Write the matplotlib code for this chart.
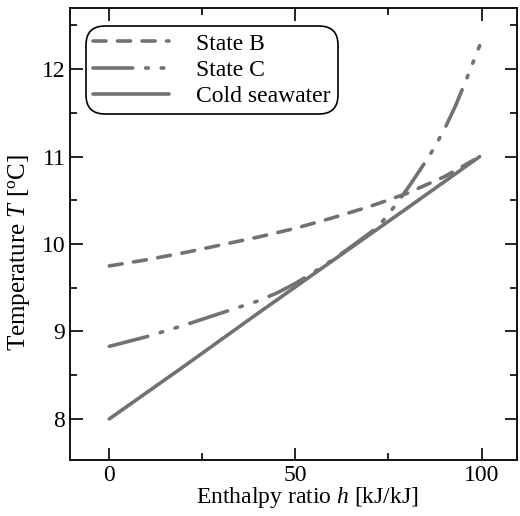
import matplotlib
matplotlib.use("Agg")
import matplotlib.pyplot as plt
from matplotlib.ticker import MultipleLocator

# enthalpy ratio h [kJ/kJ] and temperature T [C]
h_b = [0, 10, 20, 30, 40, 50, 60, 70, 80, 90, 99.5]
t_b = [9.75, 9.82, 9.90, 9.99, 10.08, 10.18, 10.30, 10.43, 10.58, 10.77, 11.0]

h_c = [0, 10, 20, 30, 40, 45, 50, 55, 60, 65, 72, 75, 78, 81, 84, 87, 90, 93, 96, 99.5]
t_c = [8.83, 8.94, 9.07, 9.21, 9.35, 9.44, 9.55, 9.68, 9.82, 9.97, 10.19, 10.34,
       10.51, 10.69, 10.88, 11.08, 11.31, 11.58, 11.89, 12.27]

h_sw = [0, 20, 40, 60, 80, 99.5]
t_sw = [8.00, 8.60, 9.21, 9.81, 10.41, 11.0]

labels = ["State B", "State C", "Cold seawater"]

plt.rcParams["font.family"] = ["Liberation Serif", "DejaVu Serif"]
plt.rcParams["mathtext.fontset"] = "custom"
plt.rcParams["mathtext.rm"] = "Liberation Serif"
plt.rcParams["mathtext.it"] = "Liberation Serif:italic"

GRAY = "#727272"
LW = 2.6

fig = plt.figure(figsize=(5.2, 5.16), dpi=100)
ax = fig.add_axes([0.135, 0.1085, 0.859, 0.876])

ax.plot(h_b, t_b, color=GRAY, lw=LW, dashes=(3.6, 3.2), dash_capstyle="round",
        label=labels[0])
ax.plot(h_c, t_c, color=GRAY, lw=LW, dashes=(11, 3.6, 0.7, 3.6, 0.7, 3.6),
        dash_capstyle="round", label=labels[1])
ax.plot(h_sw, t_sw, color=GRAY, lw=LW, solid_capstyle="round", label=labels[2])

ax.set_xlim(-10.5, 109.5)
ax.set_ylim(7.53, 12.7)
ax.xaxis.set_major_locator(MultipleLocator(50))
ax.xaxis.set_minor_locator(MultipleLocator(25))
ax.yaxis.set_major_locator(MultipleLocator(1))
ax.yaxis.set_minor_locator(MultipleLocator(0.5))
ax.tick_params(which="both", direction="in", top=True, right=True,
               labelsize=17, width=1.2)
ax.tick_params(which="major", length=9)
ax.tick_params(which="minor", length=5)
for s in ax.spines.values():
    s.set_linewidth(1.3)

ax.set_xlabel(r"Enthalpy ratio $h$ [kJ/kJ]", fontsize=17)
ax.xaxis.set_label_coords(0.53, -0.056)
ax.set_ylabel(r"Temperature $T$ [$^{\mathrm{o}}$C]", fontsize=18)
ax.yaxis.set_label_coords(-0.085, 0.46)

leg = ax.legend(loc="upper left", bbox_to_anchor=(0.036, 0.96), fontsize=17,
                handlelength=3.2, handletextpad=1.15, labelspacing=0.2,
                borderpad=0.3, borderaxespad=0, fancybox=True, framealpha=1,
                edgecolor="black")
leg.get_frame().set_linewidth(1.2)
leg.get_frame().set_boxstyle("round", pad=0.0, rounding_size=0.8)

fig.savefig("out.png", dpi=100)
